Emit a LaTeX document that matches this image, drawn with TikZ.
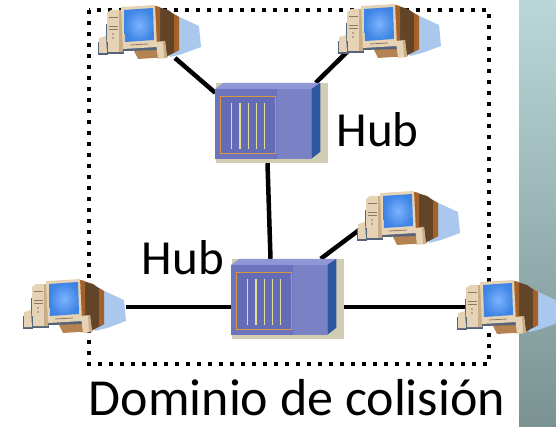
\documentclass[tikz,border=0pt]{standalone}
\usepackage{fontspec}
\setmainfont{Carlito}
\usepackage{tikz}
\usetikzlibrary{shapes,backgrounds}
\usetikzlibrary{positioning,calc}

\definecolor{stripTop}{HTML}{B9D7D9}
\definecolor{stripBot}{HTML}{7A9292}
\definecolor{pcbeige}{HTML}{E6D3B5}
\definecolor{pcbeigedk}{HTML}{C9AD86}
\definecolor{pcbrown}{HTML}{624428}
\definecolor{pcrust}{HTML}{A4622A}
\definecolor{pctan}{HTML}{B58352}
\definecolor{pcshade}{HTML}{AAC7EE}
\definecolor{pcgrey}{HTML}{55647A}
\definecolor{pcscreen}{HTML}{3D84E4}
\definecolor{pcscreenhi}{HTML}{7DB2FF}
\definecolor{hubfront}{HTML}{6B74BD}
\definecolor{hubpanel}{HTML}{7A82C6}
\definecolor{hubtop}{HTML}{9096D6}
\definecolor{hubside}{HTML}{2F56A2}
\definecolor{hubedge}{HTML}{D2CDB2}
\definecolor{hubgrille}{HTML}{D9963A}
\definecolor{hubbar}{HTML}{E6DC96}
\definecolor{hubinner}{HTML}{646CB8}

\tikzset{
pc/.pic={
  % shadow and monitor back
  \fill[pcshade] (66,6) -- (101,22) -- (103,43) -- (84,50) -- (72,53) -- cycle;
  \fill[pcbrown] (57,2) -- (70,6) -- (80,13) -- (81,46) -- (70,52) -- (57,54) -- cycle;
  \fill[pcrust] (57,2) -- (62,3) -- (62,54) -- (57,54) -- cycle;
  \fill[pcrust] (76,10) -- (81,13) -- (81,46) -- (76,49) -- cycle;
  \fill[pctan] (34,43) -- (62,43) -- (70,53) -- (40,55) -- cycle;
  % tower
  \fill[pcgrey] (8,20) rectangle (26,50);
  \fill[pcbeige] (9,9) -- (13,6) -- (25,6) -- (25,48) -- (9,48) -- cycle;
  \fill[pcbeigedk] (21,6) -- (25,6) -- (25,48) -- (21,48) -- cycle;
  \draw[pcbeigedk!70!black,line width=0.8pt] (11,13) -- (20,13) (11,22) -- (20,22) (11,25) -- (20,25);
  \fill[pcbeigedk!70!black] (15,30) circle (0.9) (15,34) circle (0.9);
  % speakers and monitor
  \fill[pcgrey] (0,38) rectangle (10,51);
  \fill[pcbeige] (1,34) -- (8,32) -- (9,49) -- (1,49) -- cycle;
  \fill[pcgrey] (25,42) -- (60,41) -- (61,46) -- (26,47) -- cycle;
  \fill[pcbeige] (23,3) -- (57,1) -- (59,43) -- (25,45) -- cycle;
  \shade[inner color=pcscreenhi, outer color=pcscreen] (26,6) -- (55,4) -- (56,36) -- (27,38) -- cycle;
  \draw[pcbeigedk!70!black,line width=0.8pt] (32,41) -- (50,40);
  \fill[pcbeige] (58,38) -- (67,37) -- (69,54) -- (60,55) -- cycle;
  \fill[pcbeigedk] (65,37) -- (67,37) -- (69,54) -- (66,54) -- cycle;
  % ports
  \coordinate (-back) at (77,54);
  \coordinate (-spk) at (10,48);
  \coordinate (-wst) at (2,40);
  \coordinate (-shd) at (103,29);
  \coordinate (-twr) at (8,28);
},
hubface/.pic={
  \fill[hubfront] (0,6) rectangle (96,76);
  \fill[hubpanel] (62,6) rectangle (96,76);
  \fill[hubtop] (0,6) -- (8,0) -- (105,0) -- (96,6) -- cycle;
  \fill[hubside] (96,6) -- (105,0) -- (105,69) -- (96,76) -- cycle;
  \fill[hubinner] (5,14) rectangle (60,71);
  \draw[hubgrille,line width=1.3pt] (5,14) rectangle (60,71);
  \foreach \x in {16,24.5,33,41,49}
    \draw[hubbar,line width=1.4pt] (\x,20) -- (\x,66);
}}

\begin{document}
\begin{tikzpicture}[x=1pt,y=-1pt,
wire/.style={line width=4.5pt},
colldomain/.style={line width=4pt,dash pattern=on 4pt off 7pt}]

\tikzstyle{hub}=[rectangle, minimum width=112pt, minimum height=80pt, inner sep=0pt, fill=hubedge]

\tikzstyle{lbl}=[inner sep=0pt, font=\fontsize{49}{52}\selectfont]

\useasboundingbox (0,0) rectangle (556,427);

%hubs
\node[hub] (hub1) at (271.5,123) {};
\node[hub] (hub2) at (287.5,299) {};
\pic at (hub1.north west) {hubface};
\pic at (hub2.north west) {hubface};

%computers
\pic (pc1) at (98,4) {pc};
\pic (pc2) at (338,3) {pc};
\pic (pc3) at (357,190) {pc};
\pic (pc4) at (23,278) {pc};
\pic (pc5) at (457,279) {pc};

%labels
\node[lbl, anchor=base] (lhub1) at (377.5,147) {Hub};
\node[lbl, anchor=base] (lhub2) at (183,275) {Hub};
\node[lbl, anchor=base, font=\fontsize{52}{54}\selectfont] (ldomain) at (297,415) {Dominio de colisión};

\begin{scope}[on background layer]
\shade[top color=stripTop, bottom color=stripBot] (519,0) rectangle (556,427);
\draw[colldomain] (89,10) rectangle (489,364);

%links
\draw[wire] (pc1-back) -- ($(hub1.north west)+(0,10)$);
\draw[wire] (pc2-spk) -- ($(hub1.north east)+(-12,0)$);
\draw[wire] ($(hub1.south)+(-4,0)$) -- ($(hub2.north)+(-17,0)$);
\draw[wire] (pc3-wst) -- ($(hub2.north east)+(-23,0)$);
\draw[wire] (pc4-shd) -- (pc4-shd -| hub2.west);
\draw[wire] (hub2.east |- pc5-twr) -- (pc5-twr);
\end{scope}

\end{tikzpicture}
\end{document}
